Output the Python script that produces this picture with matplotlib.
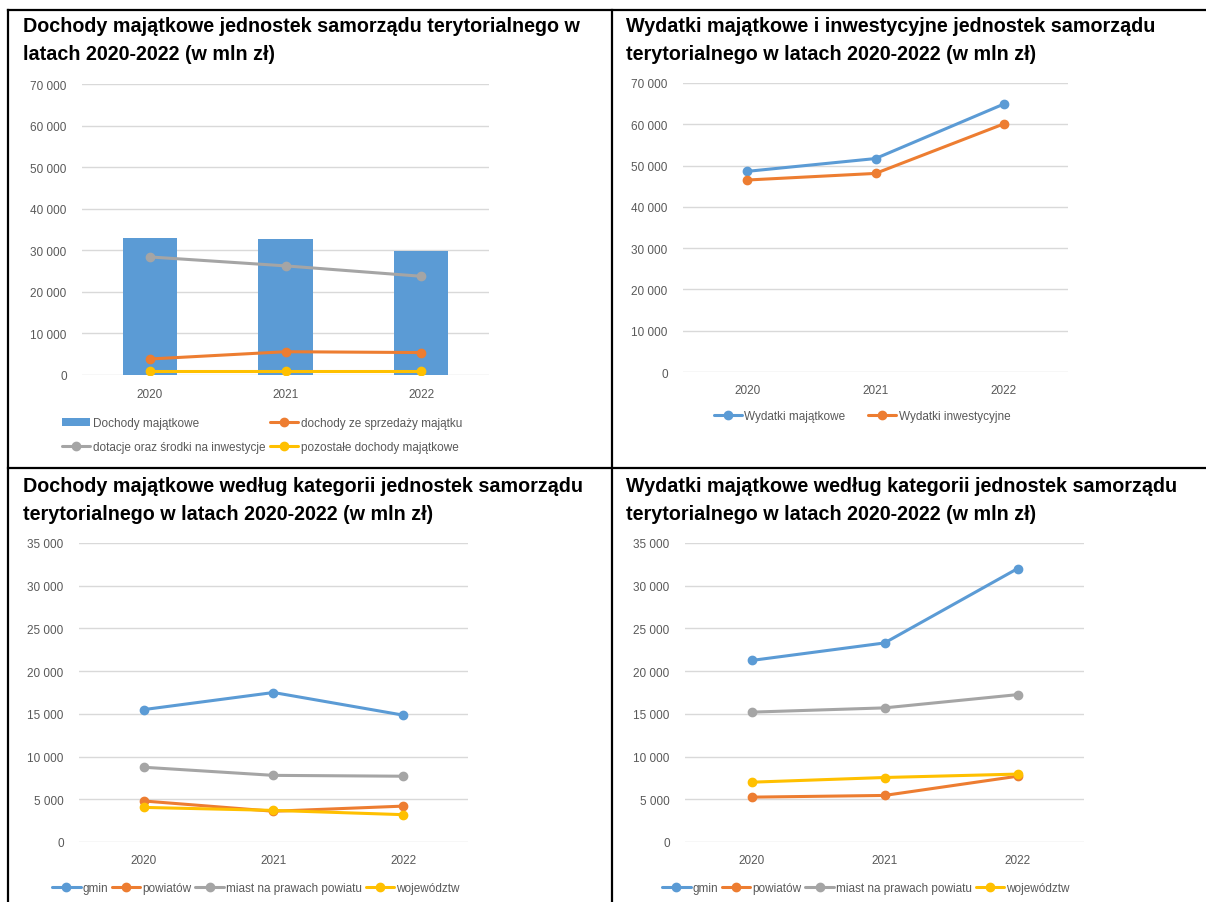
import matplotlib
matplotlib.use("Agg")
import matplotlib.pyplot as plt
from matplotlib.lines import Line2D
from matplotlib.ticker import FuncFormatter, MultipleLocator

# --- data (mln zł) ---
years = ["2020", "2021", "2022"]

# panel 1: dochody majątkowe
doch_majatkowe = [33000, 32700, 29900]
doch_sprzedaz = [3850, 5600, 5400]
dotacje = [28400, 26250, 23750]
pozostale = [880, 880, 880]

# panel 2: wydatki
wyd_majatkowe = [48600, 51700, 64900]
wyd_inwestycyjne = [46500, 48100, 60100]

# panel 3: dochody majątkowe wg kategorii JST
doch_gmin = [15500, 17500, 14850]
doch_powiatow = [4800, 3600, 4200]
doch_miast = [8750, 7800, 7700]
doch_wojewodztw = [4050, 3700, 3200]

# panel 4: wydatki majątkowe wg kategorii JST
wyd_gmin = [21250, 23300, 32000]
wyd_powiatow = [5250, 5450, 7700]
wyd_miast = [15200, 15700, 17250]
wyd_wojewodztw = [7000, 7550, 7950]

titles = [
    ("Dochody majątkowe jednostek samorządu terytorialnego w", "latach 2020-2022 (w mln zł)"),
    ("Wydatki majątkowe i inwestycyjne jednostek samorządu", "terytorialnego w latach 2020-2022 (w mln zł)"),
    ("Dochody majątkowe według kategorii jednostek samorządu", "terytorialnego w latach 2020-2022 (w mln zł)"),
    ("Wydatki majątkowe według kategorii jednostek samorządu", "terytorialnego w latach 2020-2022 (w mln zł)"),
]

BLUE, ORANGE, GRAY, YELLOW = "#5B9BD5", "#ED7D31", "#A5A5A5", "#FFC000"
TXT = "#595959"
NARROW = ["Liberation Sans Narrow", "Liberation Sans", "DejaVu Sans"]

W, H = 1206, 903
fig = plt.figure(figsize=(W / 100, H / 100), dpi=100)


def px_axes(x0, y0, x1, y1):
    return fig.add_axes([x0 / W, 1 - y1 / H, (x1 - x0) / W, (y1 - y0) / H])


def style(ax, ymax, step):
    ax.set_xlim(-0.5, 2.5)
    ax.set_ylim(0, ymax)
    ax.yaxis.set_major_locator(MultipleLocator(step))
    ax.yaxis.set_major_formatter(FuncFormatter(lambda v, p: f"{int(v):,}".replace(",", " ")))
    ax.set_xticks(range(len(years)))
    ax.set_xticklabels(years)
    for s in ax.spines.values():
        s.set_visible(False)
    ax.grid(axis="y", color="#D9D9D9", lw=1.0)
    ax.set_axisbelow(True)
    ax.tick_params(length=0, colors=TXT, labelsize=8.5)
    ax.tick_params(axis="y", pad=11)
    ax.tick_params(axis="x", pad=9)
    for lab in ax.get_xticklabels() + ax.get_yticklabels():
        lab.set_family(NARROW)


def line(ax, vals, color, label):
    return ax.plot(range(len(vals)), vals, color=color, lw=2.2, marker="o", ms=6,
                   label=label, solid_capstyle="round")[0]


def legend(handles, labels, cx, cy, ncol, colsp):
    lg = fig.legend(handles, labels, loc="center", bbox_to_anchor=(cx / W, 1 - cy / H),
                    ncol=ncol, frameon=False, handlelength=2.4, handletextpad=0.2,
                    columnspacing=colsp, labelspacing=1.0,
                    prop={"family": NARROW, "size": 8.5})
    for t in lg.get_texts():
        t.set_color(TXT)


# panel 1
ax1 = px_axes(82, 85, 489, 376)
style(ax1, 70000, 10000)
b = ax1.bar(range(3), doch_majatkowe, width=0.4, color=BLUE, label="Dochody majątkowe")
l_g = line(ax1, dotacje, GRAY, "dotacje oraz środki na inwestycje")
l_o = line(ax1, doch_sprzedaz, ORANGE, "dochody ze sprzedaży majątku")
l_y = line(ax1, pozostale, YELLOW, "pozostałe dochody majątkowe")
legend([b, l_g, l_o, l_y],
       ["Dochody majątkowe", "dotacje oraz środki na inwestycje",
        "dochody ze sprzedaży majątku", "pozostałe dochody majątkowe"],
       262, 436, 2, 0.4)

# panel 2
ax2 = px_axes(683, 84, 1068, 373)
style(ax2, 70000, 10000)
a = line(ax2, wyd_majatkowe, BLUE, "Wydatki majątkowe")
c = line(ax2, wyd_inwestycyjne, ORANGE, "Wydatki inwestycyjne")
legend([a, c], ["Wydatki majątkowe", "Wydatki inwestycyjne"], 862, 417, 2, 1.9)

# panel 3
ax3 = px_axes(79, 544, 468, 843)
style(ax3, 35000, 5000)
h3 = [line(ax3, doch_gmin, BLUE, "gmin"),
      line(ax3, doch_powiatow, ORANGE, "powiatów"),
      line(ax3, doch_miast, GRAY, "miast na prawach powiatu"),
      line(ax3, doch_wojewodztw, YELLOW, "województw")]
legend(h3, [h.get_label() for h in h3], 256, 889, 4, 0.3)

# panel 4
ax4 = px_axes(685, 544, 1084, 843)
style(ax4, 35000, 5000)
h4 = [line(ax4, wyd_gmin, BLUE, "gmin"),
      line(ax4, wyd_powiatow, ORANGE, "powiatów"),
      line(ax4, wyd_miast, GRAY, "miast na prawach powiatu"),
      line(ax4, wyd_wojewodztw, YELLOW, "województw")]
legend(h4, [h.get_label() for h in h4], 866, 889, 4, 0.3)

# titles (two lines each)
for (tx, ty), (t1, t2) in zip([(23, 27), (626, 27), (23, 487), (626, 487)], titles):
    for k, t in enumerate((t1, t2)):
        fig.text(tx / W, 1 - (ty + 27 * k) / H, t, ha="left", va="center", fontsize=14.2,
                 fontweight="bold", family=["Liberation Sans", "DejaVu Sans"])

# table borders
for xs, ys in [((8, W), (11, 11)), ((8, 8), (11, H)), ((612, 612), (11, H)), ((8, W), (469, 469))]:
    fig.add_artist(Line2D([x / W for x in xs], [1 - y / H for y in ys], color="black", lw=1.6))

fig.savefig("out.png", dpi=100)
